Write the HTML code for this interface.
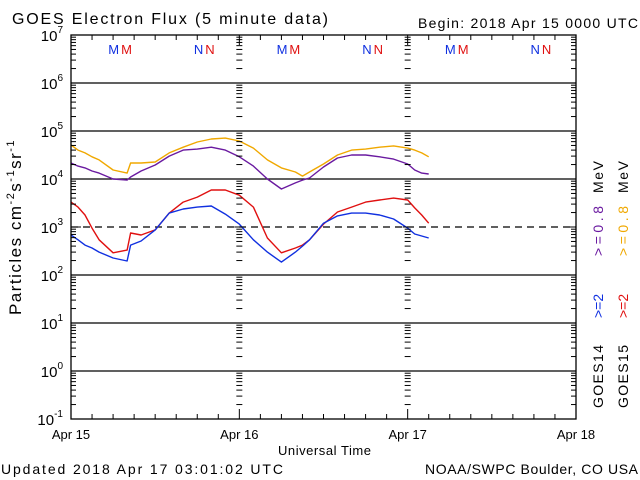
<!DOCTYPE html>
<html><head><meta charset="utf-8"><style>
html,body{margin:0;padding:0;background:#fff;}
svg{display:block;font-family:"Liberation Sans",sans-serif;}
</style></head><body>
<svg id="chart" width="640" height="480" viewBox="0 0 640 480" xmlns="http://www.w3.org/2000/svg">
<rect width="640" height="480" fill="#fff"/>
<text x="12" y="24" font-size="16" textLength="316" lengthAdjust="spacing">GOES Electron Flux (5 minute data)</text>
<text x="418" y="28" font-size="14" textLength="220" lengthAdjust="spacing">Begin: 2018 Apr 15 0000 UTC</text>
<text x="1" y="474" font-size="14" textLength="282" lengthAdjust="spacing">Updated 2018 Apr 17 03:01:02 UTC</text>
<text x="425" y="474" font-size="14" textLength="213" lengthAdjust="spacing">NOAA/SWPC Boulder, CO USA</text>
<text x="278" y="455" font-size="13" textLength="93" lengthAdjust="spacing">Universal Time</text>
<text transform="translate(21,227) rotate(-90)" font-size="17" text-anchor="middle" letter-spacing="1.5">Particles cm<tspan dy="-7" font-size="11">-2</tspan><tspan dy="7">s</tspan><tspan dy="-7" font-size="11">-1</tspan><tspan dy="7">sr</tspan><tspan dy="-7" font-size="11">-1</tspan></text>
<g font-size="14">
<text transform="translate(603,408) rotate(-90)" textLength="63" lengthAdjust="spacing">GOES14</text>
<text transform="translate(603,318) rotate(-90)" fill="#1030e0">&gt;=2</text>
<text transform="translate(603,256) rotate(-90)" fill="#6a1aa0" textLength="50" lengthAdjust="spacing">&gt;=0.8</text>
<text transform="translate(603,193) rotate(-90)" textLength="32" lengthAdjust="spacing">MeV</text>
<text transform="translate(628,408) rotate(-90)" textLength="63" lengthAdjust="spacing">GOES15</text>
<text transform="translate(628,318) rotate(-90)" fill="#e01010">&gt;=2</text>
<text transform="translate(628,256) rotate(-90)" fill="#f0a800" textLength="50" lengthAdjust="spacing">&gt;=0.8</text>
<text transform="translate(628,193) rotate(-90)" textLength="32" lengthAdjust="spacing">MeV</text>
</g>
<g id="grid"></g>
<g id="series"></g>
<g id="axes"></g>
</svg>
<script>
const hours = [0,1,2,3,4,6,8,8.5,10,12,14,16,18,20,22,24,26,28,30,32,33,34,36,38,40,42,44,46,48,49,50,51];
const g15_08 = [5.1e4,4.0e4,3.5e4,2.9e4,2.5e4,1.54e4,1.33e4,2.15e4,2.15e4,2.26e4,3.5e4,4.6e4,5.9e4,6.8e4,7.1e4,6.2e4,4.4e4,2.5e4,1.7e4,1.4e4,1.15e4,1.4e4,2.05e4,3.16e4,4.0e4,4.2e4,4.6e4,4.9e4,4.4e4,4.0e4,3.5e4,2.9e4];
const g14_08 = [2.15e4,1.86e4,1.7e4,1.47e4,1.33e4,1.0e4,9.5e3,1.1e4,1.47e4,1.96e4,3.0e4,4.0e4,4.2e4,4.6e4,4.0e4,2.9e4,1.86e4,1.0e4,6.2e3,8.3e3,9.5e3,1.05e4,1.78e4,2.74e4,3.16e4,3.16e4,2.9e4,2.6e4,2.05e4,1.54e4,1.33e4,1.27e4];
const g15_2 = [3300,2600,1780,950,540,290,330,750,680,870,1950,3300,4200,5900,5900,4600,2600,590,290,365,420,540,1150,2050,2600,3300,3650,4000,3650,2500,1780,1200];
const g14_2 = [680,540,420,365,300,226,196,420,510,870,1950,2370,2600,2740,1860,1150,540,300,186,300,400,540,1200,1700,1950,1950,1780,1470,950,715,650,590];
const dayLabels = ["Apr 15","Apr 16","Apr 17","Apr 18"];
const yExponents = [7,6,5,4,3,2,1,0,-1];
const markerLabels = [["M","M",7],["N","N",19]];

const NS="http://www.w3.org/2000/svg";
const L=71,R=576,T=35,B=419;
const x=h=>L+h*(R-L)/72;
const y=v=>T+(7-Math.log10(v))*(B-T)/8;
function mk(tag,attrs,parent,text){const e=document.createElementNS(NS,tag);for(const k in attrs)e.setAttribute(k,attrs[k]);if(text!==undefined)e.textContent=text;parent.appendChild(e);return e;}
const grid=document.getElementById('grid'),axes=document.getElementById('axes'),series=document.getElementById('series');
yExponents.forEach(p=>{if(p===7||p===-1)return;const yy=y(Math.pow(10,p));
 const ln=mk('line',{x1:L,x2:R,y1:yy,y2:yy,stroke:'#000','stroke-width':1.3},grid);
 if(p===3)ln.setAttribute('stroke-dasharray','7,5');
 
 });
const fr=mk('rect',{x:L,y:T,width:R-L,height:B-T,fill:'none',stroke:'#000','stroke-width':1.3},axes);


for(let p=-1;p<7;p++){for(let m=2;m<10;m++){const yy=y(m*Math.pow(10,p));
 mk('line',{x1:L,x2:L+5,y1:yy,y2:yy,stroke:'#000'},axes);
 mk('line',{x1:R-5,x2:R,y1:yy,y2:yy,stroke:'#000'},axes);
 [24,48].forEach(h=>mk('line',{x1:x(h)-3,x2:x(h)+3,y1:yy,y2:yy,stroke:'#000'},axes));}
 const yy=y(Math.pow(10,p));
 mk('line',{x1:L,x2:L+10,y1:yy,y2:yy,stroke:'#000'},axes);
 mk('line',{x1:R-10,x2:R,y1:yy,y2:yy,stroke:'#000'},axes);
 [24,48].forEach(h=>mk('line',{x1:x(h)-5,x2:x(h)+5,y1:yy,y2:yy,stroke:'#000'},axes));}
for(let h=0;h<=72;h+=3){const len=h%24===0?10:5;
 mk('line',{x1:x(h),x2:x(h),y1:T,y2:T+len,stroke:'#000'},axes);
 mk('line',{x1:x(h),x2:x(h),y1:B-len,y2:B,stroke:'#000'},axes);}
yExponents.forEach(p=>{const yy=y(Math.pow(10,p));
 const t=mk('text',{x:L-8,y:yy+6,'font-size':15,'text-anchor':'end'},axes);
 
 
 mk('tspan',{},t,'10');mk('tspan',{dy:-8,'font-size':10},t,String(p));});
dayLabels.forEach((d,i)=>{const t=mk('text',{x:x(i*24),y:439,'font-size':13,'text-anchor':'middle'},axes,d);
 
 });
for(let d=0;d<3;d++){markerLabels.forEach(([a,b,hh])=>{
 const t1=mk('text',{x:x(d*24+hh)-1,y:54,'font-size':13,'text-anchor':'end',fill:'#1030e0'},axes,a);
 
 
 const t2=mk('text',{x:x(d*24+hh)+1,y:54,'font-size':13,fill:'#e01010'},axes,b);
 
 });}
function line(vals,color,name){const pts=vals.map((v,i)=>x(hours[i]).toFixed(1)+','+y(v).toFixed(1)).join(' ');
 const p=mk('polyline',{points:pts,fill:'none',stroke:color,'stroke-width':1.4,'stroke-linejoin':'round'},series);
 
 }
line(g15_08,'#f0a800','series-goes15-0.8mev');
line(g14_08,'#6a1aa0','series-goes14-0.8mev');
line(g15_2,'#e01010','series-goes15-2mev');
line(g14_2,'#1030e0','series-goes14-2mev');
</script>
</body></html>
